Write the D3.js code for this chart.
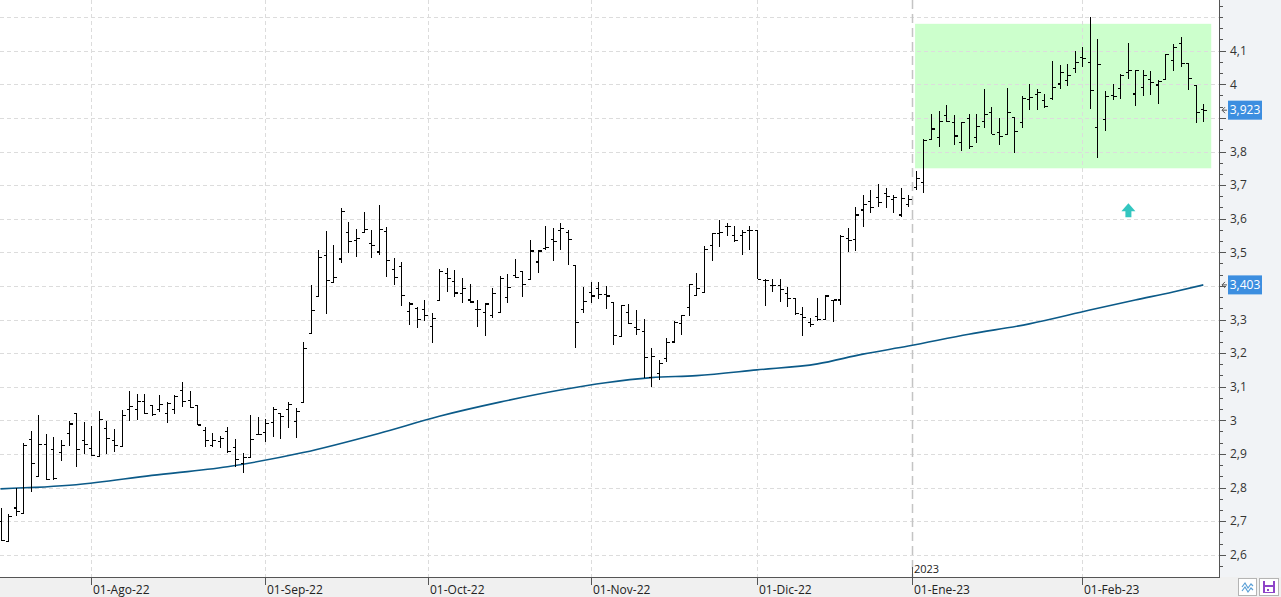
<!DOCTYPE html>
<html>
	<head>
		<meta charset="utf-8">
		<style type="text/css">
			body { margin: 0; background: #fff; font-family: "Open Sans", sans-serif; }
			svg { display: block; }
		</style>
		<title>Cotizacion</title>
	</head>
	<body>
		<script src="https://cdn.jsdelivr.net/npm/d3@7"></script>
		<script>

// OHLC diario, de 14-Jul-22 a 23-Feb-23
var opens = [2.700,2.640,2.739,2.723,2.943,2.832,2.929,2.914,2.904,2.961,
	3.021,2.941,2.915,2.892,2.976,2.941,2.921,3.031,3.031,3.057,
	3.045,3.031,3.021,3.031,3.088,3.060,3.045,2.969,2.925,2.936,
	2.966,2.920,2.872,2.890,2.959,2.963,2.993,3.019,3.033,2.996,
	3.054,3.259,3.368,3.491,3.411,3.480,3.560,3.535,3.560,3.525,
	3.501,3.562,3.450,3.459,3.324,3.334,3.331,3.279,3.357,3.437,
	3.412,3.378,3.358,3.330,3.321,3.313,3.322,3.366,3.431,3.442,
	3.420,3.471,3.512,3.539,3.566,3.560,3.462,3.330,3.380,3.393,
	3.375,3.350,3.249,3.322,3.277,3.264,3.127,3.140,3.185,3.233,
	3.287,3.336,3.372,3.380,3.521,3.557,3.578,3.549,3.549,3.564,
	3.566,3.415,3.400,3.400,3.378,3.363,3.316,3.290,3.308,3.300,
	3.356,3.358,3.540,3.537,3.626,3.650,3.664,3.676,3.656,3.611,
	3.641,3.693,3.708,3.836,3.843,3.908,3.886,3.827,3.899,3.842,
	3.888,3.917,3.857,3.851,3.902,3.886,3.955,3.970,3.951,3.958,
	4.001,4.010,4.047,4.080,4.066,3.872,3.896,3.968,3.988,4.034,
	3.971,3.991,4.013,3.998,4.015,4.072,4.121,4.061,3.996,3.924];
var highs = [2.740,2.720,2.800,2.933,2.968,3.017,2.959,2.951,2.941,2.999,
	3.021,2.996,2.984,3.028,2.999,2.975,3.031,3.086,3.077,3.078,
	3.045,3.075,3.055,3.075,3.115,3.088,3.045,2.979,2.963,2.953,
	2.979,2.943,2.904,3.016,3.009,3.003,3.039,3.019,3.055,3.036,
	3.234,3.402,3.507,3.563,3.522,3.631,3.590,3.568,3.620,3.566,
	3.641,3.576,3.482,3.471,3.353,3.336,3.358,3.320,3.449,3.453,
	3.447,3.423,3.405,3.358,3.348,3.393,3.429,3.434,3.480,3.442,
	3.537,3.507,3.578,3.571,3.588,3.566,3.462,3.398,3.411,3.411,
	3.400,3.350,3.343,3.346,3.329,3.301,3.214,3.180,3.244,3.296,
	3.313,3.406,3.437,3.519,3.557,3.596,3.588,3.578,3.566,3.578,
	3.566,3.420,3.420,3.420,3.398,3.363,3.336,3.304,3.363,3.373,
	3.358,3.551,3.571,3.636,3.670,3.686,3.704,3.691,3.670,3.690,
	3.670,3.742,3.836,3.912,3.920,3.938,3.908,3.887,3.912,3.911,
	3.986,3.932,3.899,3.988,3.902,3.965,4.001,3.985,3.971,4.069,
	4.058,4.061,4.099,4.112,4.199,4.134,3.981,4.001,4.030,4.122,
	4.042,4.044,4.039,4.013,4.090,4.121,4.141,4.061,3.996,3.941];
var lows = [2.641,2.637,2.716,2.720,2.788,2.832,2.822,2.822,2.880,2.924,
	2.862,2.900,2.894,2.890,2.900,2.907,2.921,2.999,3.001,3.019,
	3.014,3.026,2.991,3.019,3.040,3.036,2.986,2.920,2.921,2.917,
	2.904,2.862,2.844,2.890,2.956,2.936,2.951,2.943,2.976,2.946,
	3.052,3.257,3.366,3.315,3.411,3.467,3.497,3.485,3.560,3.482,
	3.491,3.427,3.403,3.341,3.284,3.276,3.296,3.229,3.357,3.383,
	3.366,3.348,3.348,3.279,3.252,3.304,3.322,3.348,3.423,3.366,
	3.420,3.437,3.507,3.474,3.507,3.462,3.214,3.318,3.348,3.360,
	3.332,3.225,3.247,3.287,3.254,3.125,3.100,3.120,3.173,3.231,
	3.254,3.310,3.372,3.380,3.475,3.517,3.549,3.532,3.492,3.507,
	3.420,3.340,3.383,3.352,3.338,3.313,3.252,3.277,3.296,3.300,
	3.293,3.343,3.502,3.505,3.576,3.617,3.636,3.631,3.616,3.604,
	3.634,3.685,3.676,3.836,3.813,3.887,3.819,3.802,3.806,3.826,
	3.869,3.851,3.819,3.851,3.795,3.869,3.924,3.924,3.928,3.953,
	3.985,3.996,4.034,4.051,3.926,3.780,3.862,3.953,3.955,4.017,
	3.935,3.965,3.967,3.941,4.013,4.040,4.052,3.983,3.885,3.889];
var closes = [2.642,2.715,2.729,2.926,2.872,2.929,2.824,2.828,2.924,2.989,
	2.912,2.929,2.895,3.003,2.946,2.924,3.014,3.040,3.057,3.019,
	3.016,3.048,3.050,3.070,3.055,3.038,2.986,2.939,2.941,2.946,
	2.907,2.882,2.890,2.943,2.959,2.991,3.031,3.011,3.048,3.025,
	3.214,3.328,3.485,3.415,3.426,3.622,3.531,3.541,3.568,3.519,
	3.568,3.476,3.426,3.372,3.346,3.299,3.313,3.304,3.444,3.423,
	3.379,3.392,3.352,3.331,3.346,3.378,3.423,3.396,3.426,3.405,
	3.504,3.504,3.515,3.532,3.571,3.539,3.292,3.353,3.370,3.375,
	3.370,3.253,3.342,3.287,3.269,3.188,3.191,3.168,3.231,3.290,
	3.313,3.403,3.392,3.507,3.557,3.560,3.578,3.535,3.560,3.566,
	3.420,3.417,3.400,3.388,3.362,3.318,3.307,3.284,3.300,3.370,
	3.358,3.546,3.535,3.611,3.641,3.634,3.649,3.667,3.664,3.660,
	3.656,3.719,3.834,3.867,3.890,3.889,3.846,3.885,3.815,3.874,
	3.911,3.851,3.844,3.917,3.859,3.958,3.961,3.975,3.933,3.991,
	4.036,4.027,4.066,4.077,3.981,4.060,3.963,3.965,4.027,4.042,
	4.040,4.025,4.005,4.008,4.088,4.110,4.063,4.018,3.915,3.923];

var maIndex  = [0, 10, 20, 30, 40, 50, 58, 66, 74, 80, 86, 92, 100, 108, 114, 120, 128, 136, 144, 150, 155, 159];
var maValues = [2.796, 2.808, 2.836, 2.862, 2.904, 2.961, 3.012, 3.054, 3.090, 3.112, 3.127, 3.133, 3.150, 3.168, 3.197, 3.221, 3.256, 3.287, 3.328, 3.358, 3.382, 3.403];

// eje de fechas (indice de sesion)
var dateLabels = ["01-Ago-22", "01-Sep-22", "01-Oct-22", "01-Nov-22", "01-Dic-22", "01-Ene-23", "01-Feb-23"];
var dateIndex  = [12, 35, 56.5, 78, 100, 120.5, 143];
var yearLabel = "2023", yearIndex = 120.5;

// eje de precios
var priceTicks = [2.6, 2.7, 2.8, 2.9, 3.0, 3.1, 3.2, 3.3, 3.4, 3.5, 3.6, 3.7, 3.8, 3.9, 4.0, 4.1];
var gridPrices = priceTicks.concat([4.2]);
var lastClose = 3.923, lastMa = 3.403;

// zona lateral y flecha
var zoneFrom = 120.9, zoneTo = 160.05, zoneHigh = 4.18, zoneLow = 3.75;
var arrowIndex = 149.1, arrowPrice = 3.625;

var width = 1281, height = 597,
	plotRight = 1219, plotBottom = 577;

var es = d3.formatLocale({decimal: ",", thousands: ".", grouping: [3], currency: ["", "€"]});
var fmtTick = es.format("~g"), fmtLabel = es.format(".3f");

var x = d3.scaleLinear().domain([0, 159]).range([0.5, 1203.3]);
var y = d3.scaleLinear().domain([2.6, 4.1]).range([554.7, 50.7]);

var svg = d3.select("body").append("svg")
	.attr("width", width)
	.attr("height", height);

//BACKGROUNDS
svg.append("rect").attr("x", 0).attr("y", 0).attr("width", width).attr("height", height).attr("fill", "#fff");
svg.append("rect").attr("x", plotRight).attr("y", 0).attr("width", width - plotRight).attr("height", plotBottom).attr("fill", "#f1f3f6");
svg.append("rect").attr("x", 0).attr("y", plotBottom).attr("width", width).attr("height", height - plotBottom).attr("fill", "#f0f0f0");

svg.append("clipPath").attr("id", "plot")
	.append("rect").attr("x", 0).attr("y", 0).attr("width", plotRight).attr("height", plotBottom);

var g = svg.append("g").attr("clip-path", "url(#plot)");

//ZONE
g.append("rect")
	.attr("x", x(zoneFrom))
	.attr("y", y(zoneHigh))
	.attr("width", x(zoneTo) - x(zoneFrom))
	.attr("height", y(zoneLow) - y(zoneHigh))
	.attr("fill", "#ccffcc");

//GRID
g.selectAll("line.hgrid")
	.data(gridPrices)
	.enter().append("line")
	.attr("x1", 0).attr("x2", plotRight)
	.attr("y1", function(d) { return Math.round(y(d)) + 0.5; })
	.attr("y2", function(d) { return Math.round(y(d)) + 0.5; })
	.attr("stroke", "#dcdcdc")
	.attr("stroke-dasharray", "4,3");

g.selectAll("line.vgrid")
	.data(dateIndex.filter(function(d) { return d !== yearIndex; }))
	.enter().append("line")
	.attr("x1", function(d) { return Math.round(x(d)) + 0.5; })
	.attr("x2", function(d) { return Math.round(x(d)) + 0.5; })
	.attr("y1", 0).attr("y2", plotBottom)
	.attr("stroke", "#dcdcdc")
	.attr("stroke-dasharray", "4,3");

// separador de año
g.append("line")
	.attr("x1", Math.round(x(yearIndex)) + 0.5).attr("x2", Math.round(x(yearIndex)) + 0.5)
	.attr("y1", 0).attr("y2", plotBottom)
	.attr("stroke", "#c4c4c4")
	.attr("stroke-width", 1.5)
	.attr("stroke-dasharray", "9,5");

//MOVING AVERAGE
var maLine = d3.line()
	.x(function(d, i) { return x(maIndex[i]); })
	.y(function(d) { return y(d); })
	.curve(d3.curveMonotoneX);

g.append("path")
	.attr("d", maLine(maValues))
	.attr("fill", "none")
	.attr("stroke", "#0b5a88")
	.attr("stroke-width", 1.6);

//BARS
g.selectAll("path.bar")
	.data(d3.range(opens.length))
	.enter().append("path")
	.attr("class", "bar")
	.attr("d", function(i) {
		var cx = Math.round(x(i)) + 0.5;
		return "M" + cx + "," + y(highs[i]) + "V" + y(lows[i]) +
			"M" + (cx - 3) + "," + y(opens[i]) + "H" + cx +
			"M" + cx + "," + y(closes[i]) + "H" + (cx + 3);
	})
	.attr("fill", "none")
	.attr("stroke", "#000")
	.attr("stroke-width", 1.1)
	.attr("shape-rendering", "crispEdges");

//ARROW
var ax = x(arrowIndex), ay = y(arrowPrice);
g.append("path")
	.attr("d", "M" + ax + "," + (ay - 7) + "L" + (ax + 7) + "," + (ay + 1) + "L" + (ax + 3) + "," + (ay + 1) +
		"L" + (ax + 3) + "," + (ay + 7) + "L" + (ax - 3) + "," + (ay + 7) + "L" + (ax - 3) + "," + (ay + 1) +
		"L" + (ax - 7) + "," + (ay + 1) + "Z")
	.attr("fill", "#33c6c0");

//AXIS
svg.append("line")
	.attr("x1", plotRight + 0.5).attr("x2", plotRight + 0.5)
	.attr("y1", 0).attr("y2", plotBottom + 1)
	.attr("stroke", "#555");
svg.append("line")
	.attr("x1", 0).attr("x2", plotRight + 1)
	.attr("y1", plotBottom + 0.5).attr("y2", plotBottom + 0.5)
	.attr("stroke", "#555");

var minor = d3.range(75, 128).map(function(k) { return k / 30; })
	.filter(function(v) { return y(v) > 2 && y(v) < plotBottom - 2; });

svg.selectAll("line.minor")
	.data(minor)
	.enter().append("line")
	.attr("x1", plotRight).attr("x2", plotRight + 4)
	.attr("y1", function(d) { return Math.round(y(d)) + 0.5; })
	.attr("y2", function(d) { return Math.round(y(d)) + 0.5; })
	.attr("stroke", "#555");

svg.selectAll("line.major")
	.data(priceTicks)
	.enter().append("line")
	.attr("x1", plotRight).attr("x2", plotRight + 7)
	.attr("y1", function(d) { return Math.round(y(d)) + 0.5; })
	.attr("y2", function(d) { return Math.round(y(d)) + 0.5; })
	.attr("stroke", "#555");

// las etiquetas tapadas por los valores actuales no se ven
var visibleTicks = priceTicks.filter(function(d) {
	return Math.abs(y(d) - y(lastClose)) > 12 && Math.abs(y(d) - y(lastMa)) > 12;
});

svg.selectAll("text.price")
	.data(visibleTicks)
	.enter().append("text")
	.attr("x", plotRight + 11)
	.attr("y", function(d) { return y(d); })
	.attr("dy", "0.35em")
	.attr("font-size", 12)
	.attr("fill", "#333")
	.text(function(d) { return fmtTick(d); });

// etiquetas del ultimo valor
[lastClose, lastMa].forEach(function(v) {
	var cy = y(v);
	svg.append("path")
		.attr("d", "M" + (plotRight + 8) + "," + cy + "H" + (plotRight + 3) +
			"M" + (plotRight + 6) + "," + (cy - 3) + "L" + (plotRight + 3) + "," + cy + "L" + (plotRight + 6) + "," + (cy + 3))
		.attr("fill", "none")
		.attr("stroke", "#555");
	svg.append("rect")
		.attr("x", plotRight + 9).attr("y", cy - 9.5)
		.attr("width", 34).attr("height", 19)
		.attr("fill", "#3c8ee0");
	svg.append("text")
		.attr("x", plotRight + 26).attr("y", cy)
		.attr("dy", "0.35em")
		.attr("text-anchor", "middle")
		.attr("font-size", 12)
		.attr("fill", "#fff")
		.text(fmtLabel(v));
});

// fechas
svg.selectAll("line.dtick")
	.data(dateIndex)
	.enter().append("line")
	.attr("x1", function(d) { return Math.round(x(d)) + 0.5; })
	.attr("x2", function(d) { return Math.round(x(d)) + 0.5; })
	.attr("y1", plotBottom).attr("y2", plotBottom + 8)
	.attr("stroke", "#555");

svg.selectAll("text.date")
	.data(dateLabels)
	.enter().append("text")
	.attr("x", function(d, i) { return Math.round(x(dateIndex[i])) + 2; })
	.attr("y", 594)
	.attr("font-size", 12)
	.attr("fill", "#222")
	.text(function(d) { return d; });

svg.append("line")
	.attr("x1", Math.round(x(yearIndex)) + 0.5).attr("x2", Math.round(x(yearIndex)) + 0.5)
	.attr("y1", plotBottom - 10).attr("y2", plotBottom)
	.attr("stroke", "#555");
svg.append("text")
	.attr("x", Math.round(x(yearIndex)) + 2)
	.attr("y", plotBottom - 4)
	.attr("font-size", 11)
	.attr("fill", "#222")
	.text(yearLabel);

//BUTTONS
svg.append("rect").attr("x", 1238.5).attr("y", 578.5).attr("width", 18).attr("height", 17)
	.attr("fill", "#fff").attr("stroke", "#b4b4b4");
svg.append("path")
	.attr("d", "M1242,587 L1245,583 L1248,588 L1251,584 L1253,586 M1242,591 L1245,587 L1248,592 L1251,588 L1253,590")
	.attr("fill", "none").attr("stroke", "#5a9fd6").attr("stroke-width", 1.2);

svg.append("rect").attr("x", 1259.5).attr("y", 578.5).attr("width", 19).attr("height", 17)
	.attr("fill", "#fff").attr("stroke", "#b4b4b4");
svg.append("rect").attr("x", 1263).attr("y", 581).attr("width", 12).attr("height", 12).attr("fill", "#8e44c8");
svg.append("rect").attr("x", 1265).attr("y", 581).attr("width", 8).attr("height", 4).attr("fill", "#fff");
svg.append("rect").attr("x", 1265).attr("y", 587).attr("width", 8).attr("height", 5).attr("fill", "#fff");
svg.append("rect").attr("x", 1267).attr("y", 589).attr("width", 2).attr("height", 2).attr("fill", "#8e44c8");

		</script>
	</body>
</html>
